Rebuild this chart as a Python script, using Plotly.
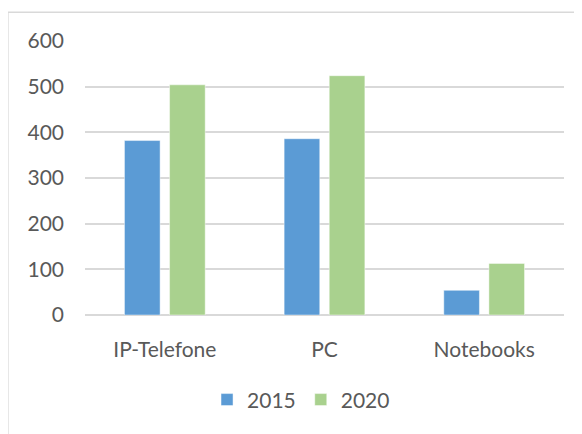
import plotly.graph_objects as go

# Data
categories = ['IP-Telefone', 'PC', 'Notebooks']
values_2015 = [382, 386, 54]
values_2020 = [504, 524, 113]
y_ticks = [0, 100, 200, 300, 400, 500, 600]

COLORS = {
    '2015': '#5b9bd5',
    '2020': '#a9d18e',
    'grid': '#d9d9d9',
    'text': '#595959',
}

fig = go.Figure()
fig.add_trace(go.Bar(
    x=categories, y=values_2015, name='2015',
    marker=dict(color=COLORS['2015'], line=dict(color='rgba(255,255,255,0.45)', width=1)),
))
fig.add_trace(go.Bar(
    x=categories, y=values_2020, name='2020',
    marker=dict(color=COLORS['2020'], line=dict(color='rgba(255,255,255,0.45)', width=1)),
))

# page body has an 8px default margin, so the figure is 8px smaller each way
fig.update_layout(
    width=574, height=426,
    margin=dict(l=77, r=18, t=33, b=119, autoexpand=False),
    paper_bgcolor='#ffffff',
    plot_bgcolor='#ffffff',
    font=dict(family='Lato, "Open Sans", sans-serif', size=21, color=COLORS['text']),
    barmode='group',
    bargap=0.435,
    bargroupgap=0.21,
    showlegend=True,
    legend=dict(
        orientation='h',
        x=0.451, xanchor='center',
        y=-0.31, yanchor='middle',
        font=dict(size=21, color=COLORS['text']),
        itemwidth=30,
        traceorder='normal',
    ),
    shapes=[dict(
        type='rect', xref='paper', yref='paper',
        x0=-0.161, x1=1.033, y0=-0.46, y1=1.105,
        line=dict(color=COLORS['grid'], width=1.5),
        fillcolor='rgba(0,0,0,0)', layer='below',
    )],
)

fig.update_xaxes(
    showgrid=False, showline=False, ticks='',
    ticklabelstandoff=20, automargin=False,
    tickfont=dict(size=21, color=COLORS['text']),
)
fig.update_yaxes(
    range=[0, 600], tickvals=y_ticks,
    showgrid=True, gridcolor=COLORS['grid'], gridwidth=1.5,
    zeroline=True, zerolinecolor=COLORS['grid'], zerolinewidth=1.5,
    showline=False, ticks='',
    ticklabelstandoff=20, automargin=False,
    tickfont=dict(size=21, color=COLORS['text']),
)

fig.write_html('out.html')
